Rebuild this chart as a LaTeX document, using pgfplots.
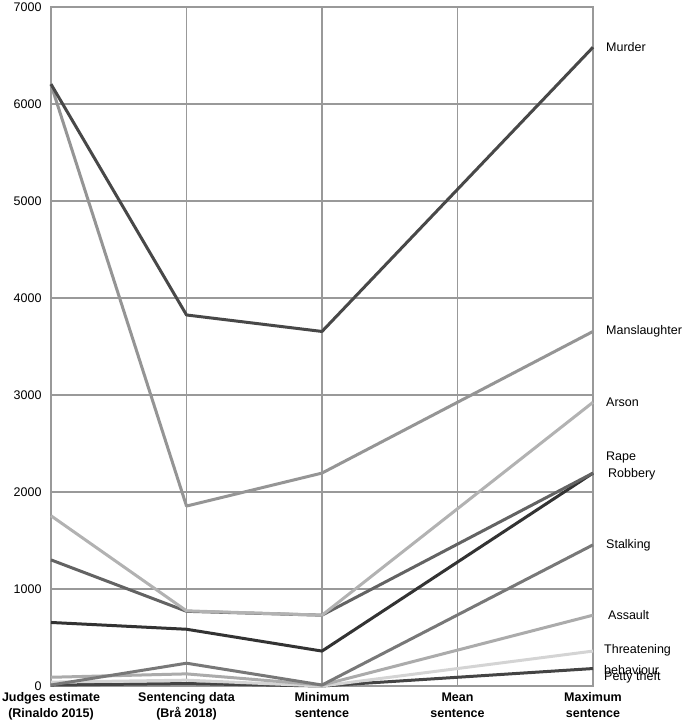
\documentclass[border=0pt]{standalone}
\usepackage{pgfplots}
\pgfplotsset{compat=1.18}
\usepackage{fontspec}
\setmainfont{Liberation Sans}
\definecolor{cMurder}{HTML}{484848}
\definecolor{cMans}{HTML}{959595}
\definecolor{cArson}{HTML}{B2B2B2}
\definecolor{cRape}{HTML}{636363}
\definecolor{cRob}{HTML}{333333}
\definecolor{cStalk}{HTML}{787878}
\definecolor{cAss}{HTML}{ABABAB}
\definecolor{cThr}{HTML}{D4D4D4}
\definecolor{cPetty}{HTML}{444444}
\definecolor{gridc}{HTML}{999999}
\begin{document}
\begin{tikzpicture}
\begin{axis}[
  scale only axis,
  width=542pt, height=679pt,
  xmin=0, xmax=4, ymin=0, ymax=7000,
  xtick={0,1,2,3,4},
  xticklabels={{Judges estimate\\(Rinaldo 2015)},{Sentencing data\\(Brå 2018)},{Minimum\\sentence},{Mean\\sentence},{Maximum\\sentence}},
  xticklabel style={align=center, font=\fontsize{12.5}{16}\selectfont\bfseries, yshift=-3pt},
  ytick={0,1000,...,7000},
  yticklabel style={font=\fontsize{12.5}{14}\selectfont, xshift=-6pt},
  /pgf/number format/assume math mode=true,
  /pgf/number format/1000 sep={},
  major tick length=0pt,
  grid=major,
  major grid style={gridc, line width=1.1pt},
  axis line style={gridc, line width=1.1pt},
  clip=false,
  every axis plot/.append style={line width=3pt, line join=round},
]
\addplot[cPetty] coordinates {(0,10) (1,25) (2,0) (4,180)};
\addplot[cThr] coordinates {(0,40) (1,60) (2,0) (4,360)};
\addplot[cAss] coordinates {(0,90) (1,125) (2,10) (4,730)};
\addplot[cStalk] coordinates {(0,10) (1,235) (2,10) (4,1455)};
\addplot[cRob] coordinates {(0,655) (1,585) (2,360) (4,2195)};
\addplot[cRape] coordinates {(0,1300) (1,770) (2,730) (4,2195)};
\addplot[cArson] coordinates {(0,1755) (1,775) (2,730) (4,2925)};
\addplot[cMans] coordinates {(0,6200) (1,1855) (2,2195) (4,3655)};
\addplot[cMurder] coordinates {(0,6205) (1,3825) (2,3655) (4,6585)};
\begin{scope}[every node/.style={anchor=west, font=\fontsize{12.5}{14}\selectfont, inner sep=0pt}]
\node at (axis cs:4,6585) [xshift=13pt] {Murder};
\node at (axis cs:4,3655) [xshift=13pt] {Manslaughter};
\node at (axis cs:4,2925) [xshift=13pt] {Arson};
\node at (axis cs:4,2360) [xshift=13pt] {Rape};
\node at (axis cs:4,2180) [xshift=15pt] {Robbery};
\node at (axis cs:4,1455) [xshift=13pt] {Stalking};
\node at (axis cs:4,730) [xshift=15pt] {Assault};
\node at (axis cs:4,365) [xshift=11pt] {Threatening};
\node at (axis cs:4,165) [xshift=11pt] {behaviour};
\node at (axis cs:4,90) [xshift=11pt] {Petty theft};
\end{scope}
\end{axis}
\pgfresetboundingbox
\path (current axis.south west) ++(-51pt,-38pt) coordinate (bl);
\path (current axis.north east) ++(92pt,7pt) coordinate (tr);
\path[use as bounding box] (bl) rectangle (tr);
\end{tikzpicture}
\end{document}
